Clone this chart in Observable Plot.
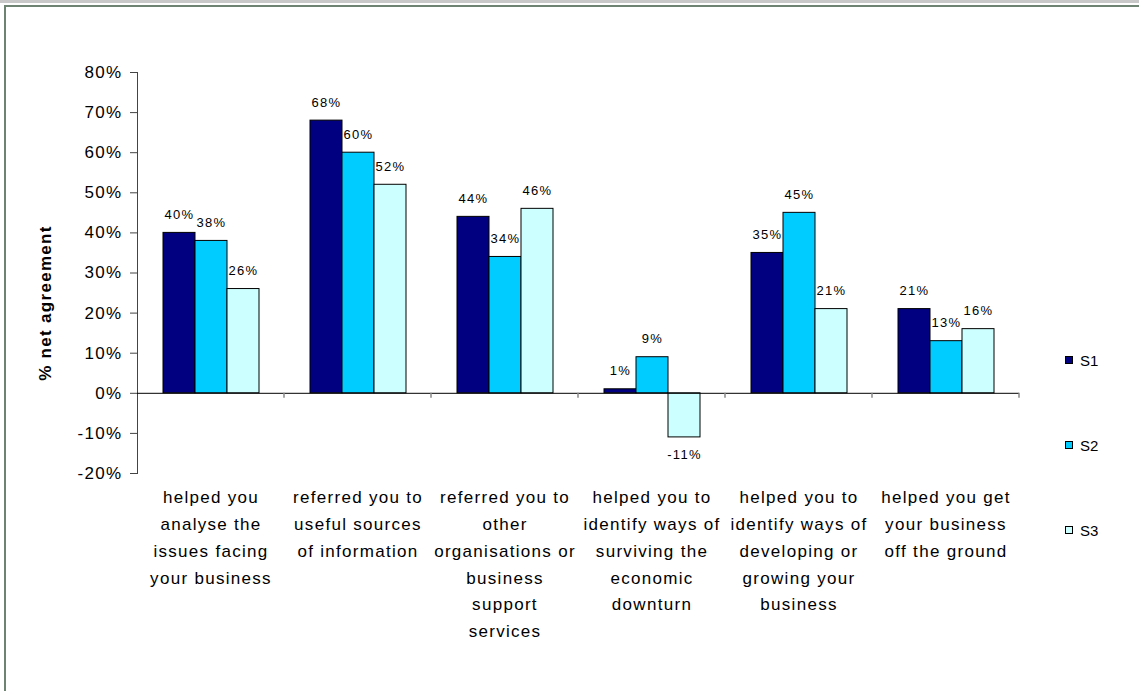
<!DOCTYPE html>
<html>
<head>
<meta charset="utf-8">
<script src="https://cdn.jsdelivr.net/npm/d3@7"></script>
<script src="https://cdn.jsdelivr.net/npm/@observablehq/plot@0.6"></script>
<style>
  html, body { margin: 0; padding: 0; background: #fff; overflow: hidden; }
  #wrap { position: relative; width: 1139px; height: 691px; }
  #band { position: absolute; left: 0; top: 0; width: 1139px; height: 3px; background: #c8c8c8; }
  #frame { position: absolute; left: 4px; top: 5px; right: 0; bottom: 0; border-top: 2px solid #6f8372; border-left: 2px solid #6f8372; pointer-events: none; z-index: 2; }
  #chart { position: absolute; left: 0; top: 0; z-index: 1; }
  .leg { position: absolute; left: 1065px; height: 16px; display: flex; align-items: center; font-family: "Liberation Sans", Arial, sans-serif; font-size: 15px; color: #000; z-index: 3; }
  .leg .sw { width: 6px; height: 6px; border: 1px solid #000; margin-right: 7px; }
</style>
</head>
<body>
<div id="wrap">
  <div id="band"></div>
  <div id="frame"></div>
  <div id="chart"></div>
  <div id="legend"></div>
</div>
<script>
const categories = [
  "helped you\nanalyse the\nissues facing\nyour business",
  "referred you to\nuseful sources\nof information",
  "referred you to\nother\norganisations or\nbusiness\nsupport\nservices",
  "helped you to\nidentify ways of\nsurviving the\neconomic\ndownturn",
  "helped you to\nidentify ways of\ndeveloping or\ngrowing your\nbusiness",
  "helped you get\nyour business\noff the ground"
];
const series = ["S1", "S2", "S3"];
const s1 = [40, 68, 44, 1, 35, 21];
const s2 = [38, 60, 34, 9, 45, 13];
const s3 = [26, 52, 46, -11, 21, 16];
const colors = ["#000080", "#00ccff", "#ccffff"];
const yTicks = [-20, -10, 0, 10, 20, 30, 40, 50, 60, 70, 80];
const yTitle = "% net agreement";

const values = [s1, s2, s3];
const data = categories.flatMap((c, i) => series.map((s, j) => ({category: c, series: s, value: values[j][i]})));

const chart = Plot.plot({
  width: 1139,
  height: 691,
  marginLeft: 137,
  marginRight: 120,
  marginTop: 72,
  marginBottom: 218,
  style: {fontFamily: '"Liberation Sans", Arial, sans-serif', fontSize: "17px", letterSpacing: "1.3px", background: "transparent", color: "#000"},
  fx: {domain: categories, padding: 0},
  x: {domain: series, paddingInner: 0, paddingOuter: 0.74, axis: null},
  y: {domain: [-20, 80]},
  color: {domain: series, range: colors},
  marks: [
    Plot.frame({anchor: "left", facetAnchor: "left", stroke: "#444"}),
    Plot.axisY({ticks: yTicks, tickFormat: d => d + "%", tickSize: 7, tickPadding: 8, label: null, fontSize: 17, stroke: "#444"}),
    Plot.axisFx({anchor: "bottom", tickSize: 0, tickPadding: 11, label: null, fontSize: 17, lineHeight: 1.57}),
    Plot.barY(data, {fx: "category", x: "series", y: "value", fill: "series", stroke: "#000", strokeWidth: 1}),
    Plot.ruleY([0], {stroke: "#000"}),
    Plot.text(data.filter(d => d.value >= 0), {fx: "category", x: "series", y: "value", text: d => d.value + "%", dy: -18, fontSize: 13, fill: "#000"}),
    Plot.text(data.filter(d => d.value < 0), {fx: "category", x: "series", y: "value", text: d => d.value + "%", dy: 17, fontSize: 13, fill: "#000"}),
    Plot.text([yTitle], {fx: () => categories[0], y: () => 22.5, frameAnchor: "left", textAnchor: "middle", rotate: -90, dx: -92, fontWeight: "bold", fontSize: 17, fill: "#000"})
  ]
});

// category boundary ticks on the zero line, from the plot's own scales
const fxS = chart.scale("fx"), yS = chart.scale("y");
const y0 = yS.apply(0);
const gt = d3.select(chart).append("g").attr("stroke", "#888").attr("stroke-width", 1.5);
categories.forEach(c => {
  const xr = fxS.apply(c) + fxS.bandwidth;
  gt.append("line").attr("x1", xr).attr("x2", xr).attr("y1", y0).attr("y2", y0 + 5);
});

document.getElementById("chart").appendChild(chart);

// legend
const legendY = [360, 445, 530];
const leg = document.getElementById("legend");
series.forEach((s, i) => {
  const item = document.createElement("div");
  item.className = "leg";
  item.style.top = (legendY[i] - 8) + "px";
  item.innerHTML = `<span class="sw" style="background:${colors[i]}"></span><span>${s}</span>`;
  leg.appendChild(item);
});
</script>
</body>
</html>
